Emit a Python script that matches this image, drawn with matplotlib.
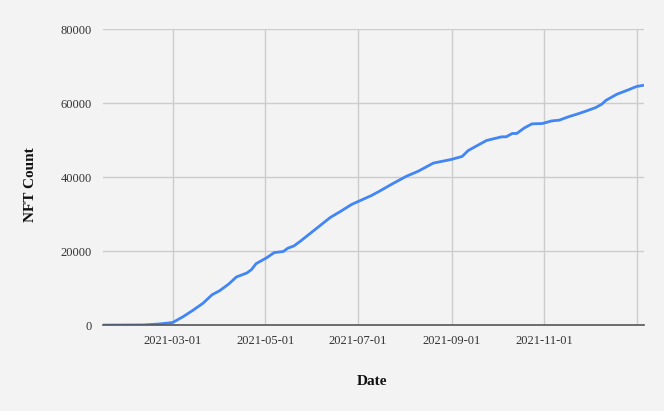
import pandas as pd
import numpy as np
import matplotlib.pyplot as plt
import matplotlib.dates as mdates

# cumulative NFT count
dates = ['2021-01-14', '2021-02-10', '2021-02-20', '2021-03-01', '2021-03-08',
         '2021-03-14', '2021-03-21', '2021-03-27', '2021-04-01', '2021-04-07',
         '2021-04-12', '2021-04-19', '2021-04-22', '2021-04-25', '2021-05-02',
         '2021-05-07', '2021-05-13', '2021-05-16', '2021-05-20', '2021-05-24',
         '2021-06-01', '2021-06-13', '2021-06-20', '2021-06-27', '2021-07-04',
         '2021-07-10', '2021-07-15', '2021-07-24', '2021-08-02', '2021-08-10',
         '2021-08-20', '2021-09-01', '2021-09-08', '2021-09-12', '2021-09-24',
         '2021-10-04', '2021-10-07', '2021-10-11', '2021-10-14', '2021-10-19',
         '2021-10-24', '2021-10-31', '2021-11-06', '2021-11-11', '2021-11-17',
         '2021-11-24', '2021-11-29', '2021-12-05', '2021-12-09', '2021-12-12',
         '2021-12-19', '2021-12-26', '2022-01-01', '2022-01-05']
nft_count = [0, 50, 300, 700, 2300,
             3900, 5900, 8200, 9300, 11100,
             13000, 14100, 15000, 16600, 18200,
             19600, 19900, 20800, 21400, 22600,
             25200, 29100, 30800, 32600, 33900,
             35000, 36100, 38200, 40200, 41600,
             43800, 44800, 45600, 47200, 49900,
             50900, 50900, 51800, 51800, 53300,
             54400, 54500, 55200, 55400, 56300,
             57200, 57900, 58800, 59700, 60800,
             62400, 63500, 64500, 64800]

x_ticks = ['2021-03-01', '2021-05-01', '2021-07-01', '2021-09-01', '2021-11-01']
y_ticks = [0, 20000, 40000, 60000, 80000]

plt.rcParams['font.family'] = ['Liberation Serif', 'DejaVu Serif']

bg = '#f3f3f3'
fig = plt.figure(figsize=(6.64, 4.11), dpi=100, facecolor=bg)
ax = fig.add_axes([0.155, 0.209, 0.815, 0.720], facecolor=bg)

dt = pd.to_datetime(dates)
ax.plot(dt, nft_count, color='#4285f4', lw=2, zorder=3)

ax.set_xlim(pd.Timestamp('2021-01-14'), pd.Timestamp('2022-01-06'))
ax.set_ylim(0, 80000)
ax.set_xticks(pd.to_datetime(x_ticks))
ax.xaxis.set_major_formatter(mdates.DateFormatter('%Y-%m-%d'))
ax.set_yticks(y_ticks)
ax.set_yticklabels([str(v) for v in y_ticks])

ax.grid(True, color='#cccccc', lw=1)
ax.axvline(pd.Timestamp('2022-01-01'), color='#cccccc', lw=1, zorder=1)
ax.set_axisbelow(True)

for s in ['top', 'right', 'left']:
    ax.spines[s].set_visible(False)
ax.spines['bottom'].set_color('#555555')
ax.spines['bottom'].set_linewidth(1.2)
ax.spines['bottom'].set_zorder(4)

ax.tick_params(length=0, labelsize=9, colors='#333333', pad=8)
ax.tick_params(axis='x', pad=7)

ax.set_xlabel('Date', fontsize=11, fontweight='bold', color='#111111')
ax.set_ylabel('NFT Count', fontsize=11, fontweight='bold', color='#111111')
ax.xaxis.set_label_coords(0.497, -0.169)
ax.yaxis.set_label_coords(-0.122, 0.475)

plt.savefig('out.png', dpi=100, facecolor=bg)
plt.close()
